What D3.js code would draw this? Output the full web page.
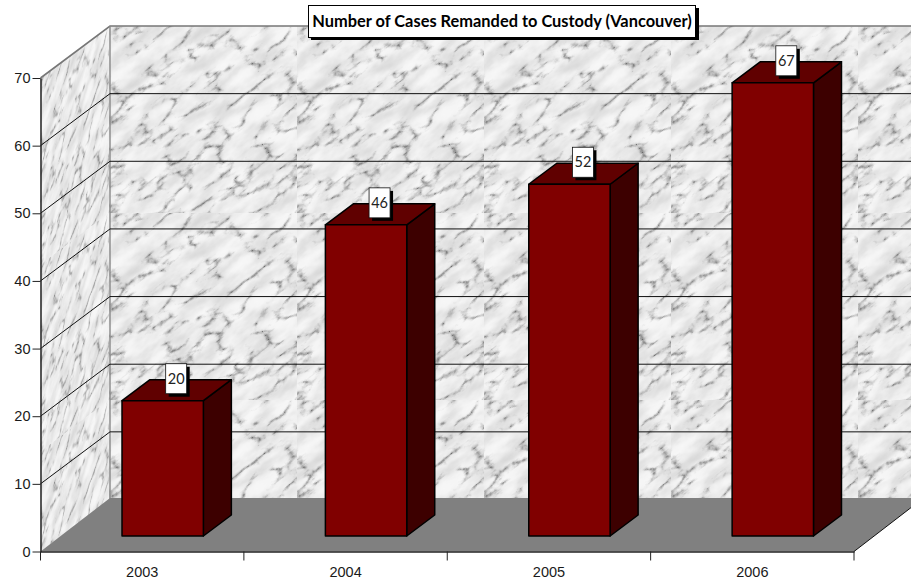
<!DOCTYPE html>
<html>
<head>
<meta charset="utf-8">
<script src="https://cdn.jsdelivr.net/npm/d3@7"></script>
<style>
html, body { margin: 0; padding: 0; background: #fff; overflow: hidden; }
svg { display: block; }
.axis text { font-family: "Liberation Sans", Arial, sans-serif; font-size: 14.5px; fill: #1a1a1a; }
.axis line, .axis path { stroke: #222; }
.lbl { font-family: Lato, "Noto Sans", sans-serif; font-size: 14.5px; fill: #222; }
.title { font-family: Lato, "Noto Sans", sans-serif; font-size: 16.4px; font-weight: bold; fill: #000; }
</style>
</head>
<body>
<svg id="chart" width="911" height="579"></svg>
<script>
var chartTitle = "Number of Cases Remanded to Custody (Vancouver)";
var years = ["2003", "2004", "2005", "2006"];
var cases = [20, 46, 52, 67];
var valueTicks = [0, 10, 20, 30, 40, 50, 60, 70];

var svg = d3.select("#chart");

// front plane of the 3d box
var x0 = 40.5, x1 = 854, yZero = 551.5, yTop = 78;
var depthX = 69.5, depthY = 52;      // wall depth
var floorDepthY = 53.5;
var barDepthX = 28, barDepthY = 21;  // bar depth
var barShiftX = 20.5, barShiftY = 15.5;  // bars sit this far in from the front edge

var x = d3.scaleBand().domain(years).range([x0, x1]).paddingInner(0.6).paddingOuter(0.3);
var xLabels = d3.scaleBand().domain(years).range([x0, x1]);
var y = d3.scaleLinear().domain([0, 70]).range([yZero, yTop]);

function pts(a) {
	return a.map(function(p) { return p.join(","); }).join(" ");
}

// marble texture: veins from turbulence, multiplied by soft cloudy noise
var defs = svg.append("defs");
var f = defs.append("filter").attr("id", "marbleFilter")
	.attr("x", 0).attr("y", 0).attr("width", 1).attr("height", 1)
	.attr("color-interpolation-filters", "sRGB");
f.append("feTurbulence")
	.attr("type", "turbulence")
	.attr("baseFrequency", "0.024 0.05")
	.attr("numOctaves", 6)
	.attr("seed", 23)
	.attr("result", "raw");
f.append("feColorMatrix").attr("in", "raw")
	.attr("type", "matrix")
	.attr("values", "1.8 0 0 0 0  1.8 0 0 0 0  1.8 0 0 0 0  0 0 0 0 1");
var veins = f.append("feComponentTransfer").attr("result", "veins");
["feFuncR", "feFuncG", "feFuncB"].forEach(function(n) {
	veins.append(n).attr("type", "table").attr("tableValues", "0.45 0.62 0.82 0.95 1 1 1 1 1");
});
f.append("feTurbulence")
	.attr("type", "fractalNoise")
	.attr("baseFrequency", "0.03 0.07")
	.attr("numOctaves", 4)
	.attr("seed", 5)
	.attr("result", "rawCloud");
f.append("feColorMatrix").attr("in", "rawCloud")
	.attr("type", "matrix")
	.attr("values", "1 0 0 0 0  1 0 0 0 0  1 0 0 0 0  0 0 0 0 1");
var cloud = f.append("feComponentTransfer").attr("result", "cloud");
["feFuncR", "feFuncG", "feFuncB"].forEach(function(n) {
	cloud.append(n).attr("type", "table").attr("tableValues", "0.84 0.86 0.89 0.93 0.96 0.97 0.97");
});
f.append("feBlend").attr("mode", "multiply").attr("in", "veins").attr("in2", "cloud");
f.append("feGaussianBlur").attr("stdDeviation", 0.7);

// one tile repeated like the original image fill, grain running on the diagonal
function addMarble(id, transform) {
	var p = defs.append("pattern").attr("id", id)
		.attr("patternUnits", "userSpaceOnUse")
		.attr("width", 187).attr("height", 187);
	if (transform) p.attr("patternTransform", transform);
	p.append("rect").attr("width", 187).attr("height", 187).attr("fill", "#e8e8e8");
	p.append("rect")
		.attr("x", -120).attr("y", -120).attr("width", 430).attr("height", 430)
		.attr("transform", "rotate(-38 93.5 93.5)")
		.attr("filter", "url(#marbleFilter)");
}
addMarble("marbleBack", "translate(110,26)");
addMarble("marbleSide", "matrix(0.37,-0.28,0,1,40,78)");

// left wall
svg.append("polygon")
	.attr("points", pts([[x0, yTop], [x0 + depthX, yTop - depthY], [x0 + depthX, yZero - depthY], [x0, yZero]]))
	.attr("fill", "url(#marbleSide)");

// back wall
svg.append("rect")
	.attr("x", x0 + depthX).attr("y", yTop - depthY)
	.attr("width", x1 - x0).attr("height", yZero - yTop)
	.attr("fill", "url(#marbleBack)");

// wall edges
svg.append("polyline")
	.attr("points", pts([[x0, yTop], [x0 + depthX, yTop - depthY], [x1 + depthX, yTop - depthY]]))
	.attr("fill", "none").attr("stroke", "#777").attr("stroke-width", 1.6);
svg.append("line")
	.attr("x1", x0 + depthX).attr("x2", x0 + depthX)
	.attr("y1", yTop - depthY).attr("y2", yZero - depthY)
	.attr("stroke", "#888").attr("stroke-width", 1.4);

// gridlines, they bend at the wall corner
var gridVals = valueTicks.filter(function(d) { return d > 0 && d < 70; });
svg.append("g").selectAll("polyline").data(gridVals).enter().append("polyline")
	.attr("points", function(d) {
		return pts([[x0, y(d)], [x0 + depthX, y(d) - depthY], [x1 + depthX, y(d) - depthY]]);
	})
	.attr("fill", "none").attr("stroke", "#111").attr("stroke-width", 1);

// floor
svg.append("polygon")
	.attr("points", pts([[x0, yZero], [x1, yZero], [x1 + depthX, yZero - floorDepthY], [x0 + depthX, yZero - floorDepthY]]))
	.attr("fill", "#808080");
svg.append("line")
	.attr("x1", x1).attr("y1", yZero)
	.attr("x2", x1 + depthX).attr("y2", yZero - floorDepthY)
	.attr("stroke", "#111").attr("stroke-width", 1);

// axes
var yAxis = d3.axisLeft(y).tickValues(valueTicks).tickSizeInner(8).tickSizeOuter(0).tickPadding(2);
svg.append("g").attr("class", "axis")
	.attr("transform", "translate(" + x0 + ",0)")
	.call(yAxis)
	.select(".domain").attr("stroke-width", 1.5);

var xAxis = d3.axisBottom(xLabels).tickSize(0).tickPadding(15);
var xg = svg.append("g").attr("class", "axis")
	.attr("transform", "translate(0," + yZero + ")")
	.call(xAxis);
xg.select(".domain").attr("stroke-width", 1.5);
// tick marks go between the categories
xg.selectAll("line.sep").data(d3.range(years.length + 1)).enter().append("line")
	.attr("class", "sep")
	.attr("x1", function(i) { return x0 + i * xLabels.step(); })
	.attr("x2", function(i) { return x0 + i * xLabels.step(); })
	.attr("y1", 0).attr("y2", 9);

// bars
var bars = svg.append("g").selectAll("g").data(years).enter().append("g");

function barBox(i) {
	var left = x(years[i]) + barShiftX;
	return {left: left, right: left + x.bandwidth(), top: y(cases[i]) - barShiftY, bottom: yZero - barShiftY};
}

bars.append("polygon").attr("points", function(d, i) {
		var b = barBox(i);
		return pts([[b.right, b.top], [b.right + barDepthX, b.top - barDepthY], [b.right + barDepthX, b.bottom - barDepthY], [b.right, b.bottom]]);
	})
	.attr("fill", "#3d0000");
bars.append("polygon").attr("points", function(d, i) {
		var b = barBox(i);
		return pts([[b.left, b.top], [b.left + barDepthX, b.top - barDepthY], [b.right + barDepthX, b.top - barDepthY], [b.right, b.top]]);
	})
	.attr("fill", "#600000");
bars.append("rect")
	.attr("x", function(d, i) { return barBox(i).left; })
	.attr("y", function(d, i) { return barBox(i).top; })
	.attr("width", x.bandwidth())
	.attr("height", function(d, i) { var b = barBox(i); return b.bottom - b.top; })
	.attr("fill", "#800000");
bars.selectAll("polygon, rect")
	.attr("stroke", "#000").attr("stroke-width", 1.5).attr("stroke-linejoin", "round");

// value labels
var labels = svg.append("g").selectAll("g").data(cases).enter().append("g")
	.attr("transform", function(d, i) {
		var b = barBox(i);
		return "translate(" + (b.left + x.bandwidth() / 2 + barDepthX / 2) + "," + (b.top - 22) + ")";
	});
labels.append("rect").attr("x", -8).attr("y", -12).attr("width", 21).attr("height", 30).attr("fill", "#000");
labels.append("rect").attr("x", -11).attr("y", -15).attr("width", 21).attr("height", 30)
	.attr("fill", "#fff").attr("stroke", "#111").attr("stroke-width", 0.8);
labels.append("text").attr("class", "lbl")
	.attr("x", -0.5).attr("y", 5)
	.attr("text-anchor", "middle")
	.text(function(d) { return d; });

// title box
var tg = svg.append("g");
tg.append("rect").attr("x", 311).attr("y", 8).attr("width", 388).attr("height", 32).attr("fill", "#000");
tg.append("rect").attr("x", 308.5).attr("y", 5.5).attr("width", 387).attr("height", 32)
	.attr("fill", "#fff").attr("stroke", "#000").attr("stroke-width", 1);
tg.append("text").attr("class", "title")
	.attr("x", 502).attr("y", 27)
	.attr("text-anchor", "middle")
	.text(chartTitle);
</script>
</body>
</html>
